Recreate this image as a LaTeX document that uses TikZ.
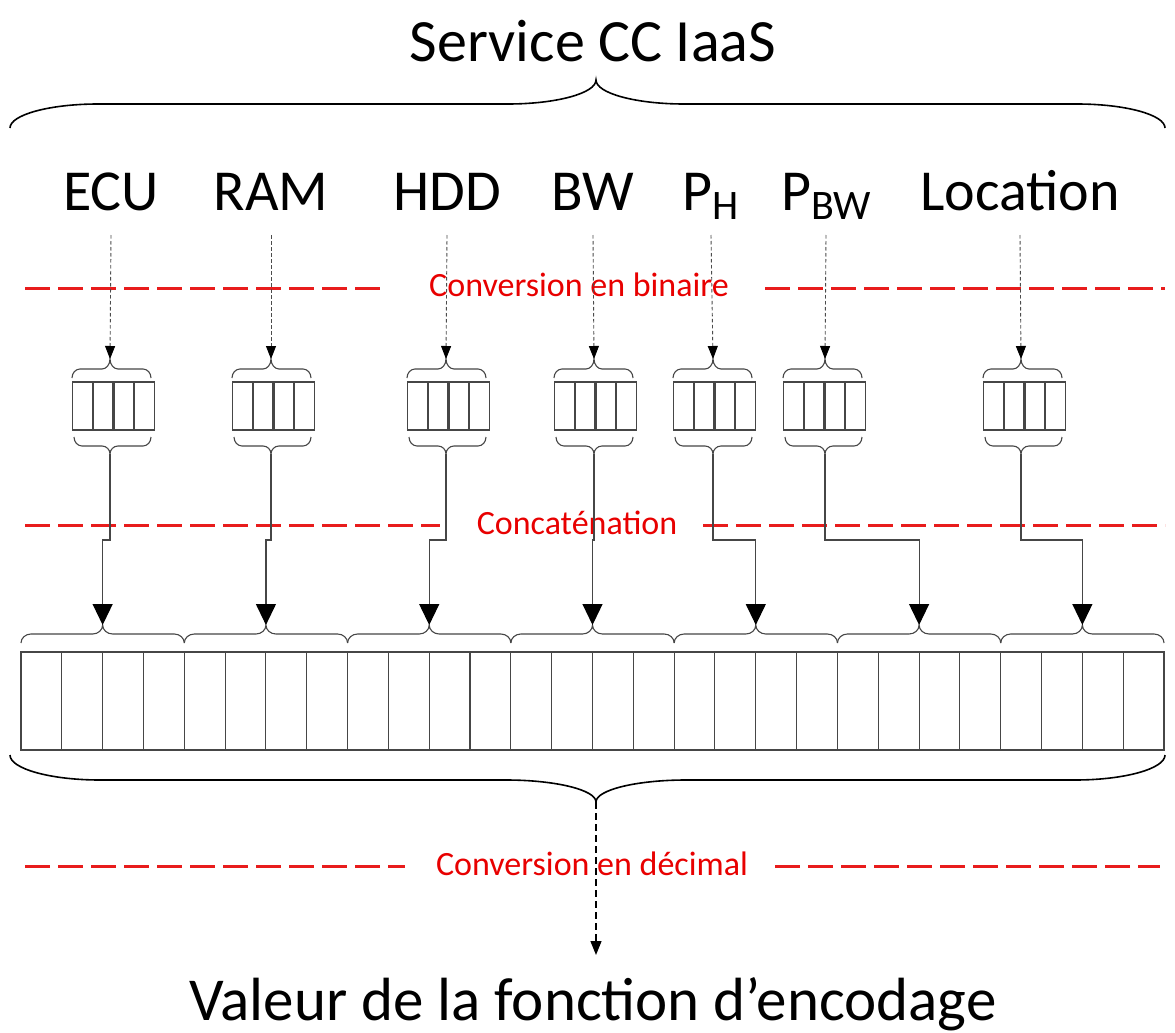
\documentclass[tikz,border=0pt]{standalone}
\usepackage{fontspec}
\setmainfont{Carlito}
\usetikzlibrary{arrows.meta}
\definecolor{redline}{RGB}{232,28,28}
\definecolor{redtext}{RGB}{232,0,0}
\definecolor{lineg}{RGB}{70,70,70}
\newcommand{\mysub}[1]{\raisebox{-0.16em}{\fontsize{42}{42}\selectfont #1}}
% x1, x2, xtip, yEnd, yMid, yTip, c
\newcommand{\mybrace}[8][]{%
  \draw[brc,#1] ({#2},{#5}) .. controls ({#2},{#5+0.55*(#6-#5)}) and ({#2+0.45*(#8)},{#6}) .. ({#2+(#8)},{#6})
   -- ({#4-(#8)},{#6}) .. controls ({#4-0.45*(#8)},{#6}) and ({#4},{#6+0.45*(#7-#6)}) .. ({#4},{#7})
   .. controls ({#4},{#6+0.45*(#7-#6)}) and ({#4+0.45*(#8)},{#6}) .. ({#4+(#8)},{#6})
   -- ({#3-(#8)},{#6}) .. controls ({#3-0.45*(#8)},{#6}) and ({#3},{#5+0.55*(#6-#5)}) .. ({#3},{#5});}
\tikzset{
  brc/.style={draw=lineg, line width=1.1pt},
  bigbrc/.style={draw=black, line width=1.6pt},
  cell/.style={draw=lineg, line width=1.1pt},
  conn/.style={draw=lineg, line width=1.2pt, -{Triangle[width=20pt,length=21pt,fill=black,color=black]}},
  dotarr/.style={draw=gray!60!black, line width=0.9pt, dash pattern=on 3.5pt off 2.5pt, -{Triangle[width=10pt,length=13pt,fill=black,color=black]}},
  dasharr/.style={draw=black, line width=1.3pt, dash pattern=on 7pt off 4pt, -{Triangle[width=11pt,length=14pt]}},
  redl/.style={draw=redline, line width=3pt, dash pattern=on 25pt off 8pt},
  redlab/.style={text=redtext, font=\fontsize{34}{36}\selectfont, anchor=base, inner sep=0pt},
  biglab/.style={font=\fontsize{58}{60}\selectfont, anchor=base, inner sep=0pt},
  titlelab/.style={font=\fontsize{60}{62}\selectfont, anchor=base, inner sep=0pt},
}
\begin{document}
\begin{tikzpicture}[x=1pt,y=-1pt]
\useasboundingbox (0,0) rectangle (1175,1033);
\fill[white] (0,0) rectangle (1175,1033);
% title and big top brace
\node[titlelab] (title) at (593,62) {Service CC IaaS};
\mybrace[bigbrc]{10}{1165}{596}{128}{104}{80}{88}
% red separators
\node[redlab] (lbin) at (579,296) {Conversion en binaire};
\draw[redl] (25,288) -- (385,288);
\draw[redl] (765,288) -- (1165,288);
\node[redlab] (lcat) at (577,534) {Concaténation};
\draw[redl] (25,525) -- (440,525);
\draw[redl] (703,525) -- (1165,525);
\node[redlab] (ldec) at (592,875) {Conversion en décimal};
\draw[redl] (25,866) -- (405,866);
\draw[redl] (775,866) -- (1160,866);
% big bar
\foreach \k in {0,...,27}{
  \draw[cell] ({21+\k*40.82},652) rectangle ({21+(\k+1)*40.82},750);
}
\foreach \g in {0,...,6}{
  \coordinate (tgt\g) at ({21+163.29*\g+81.64},625);
  \mybrace{21+163.29*\g}{21+163.29*(\g+1)}{21+163.29*\g+81.64}{643}{634}{625}{10}
}
% groups
\foreach \n/\lab/\lx/\ax/\bl/\g in {ecu/ECU/111/110/72/0, ram/RAM/271/271/232/1, hdd/HDD/447/446/407/2, bw/BW/593/594/554/3, ph/{P\mysub{H}}/711/713/673/4, pbw/{P\mysub{BW}}/826/825/783/5, loc/Location/1020/1021/983/6}{
  \node[biglab] (lab\n) at (\lx,210) {\lab};
  \coordinate (top\n) at (\ax,359);
  \coordinate (bot\n) at (\ax,454);
  \foreach \c in {0,...,3}{
    \draw[cell] ({\bl+\c*20.7+0.6},382) rectangle ({\bl+(\c+1)*20.7-0.6},430);
  }
  \mybrace{\bl}{\bl+79}{\ax}{378}{369}{359}{8}
  \mybrace{\bl+79}{\bl+2}{\ax}{437}{446}{454}{-8}
  \draw[dotarr] (lab\n.base) ++(0,25) -- (top\n);
  \draw[conn] (bot\n) -- ++(0,86) -| (tgt\g);
}
% bottom big brace and result
\mybrace[bigbrc]{10}{1165}{596}{755}{780}{802}{90}
\coordinate (bigtip) at (596,802);
\node[titlelab, font=\fontsize{61}{63}\selectfont] (result) at (593,1020) {Valeur de la fonction d’encodage};
\draw[dasharr] (bigtip) -- ++(0,153);
\end{tikzpicture}
\end{document}
